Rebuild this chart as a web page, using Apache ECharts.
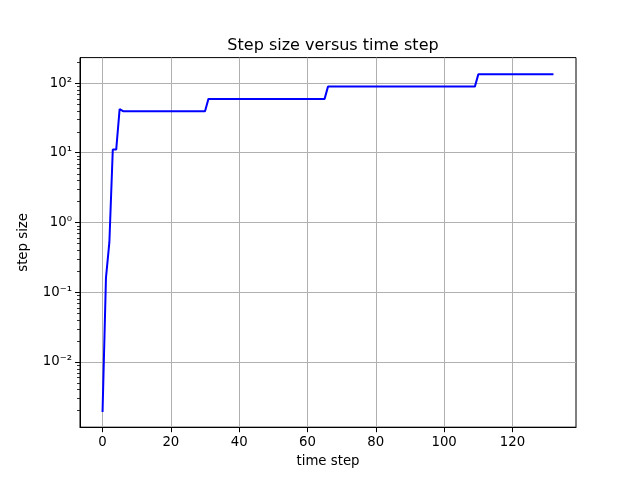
<!DOCTYPE html>
<html>
<head>
<meta charset="utf-8">
<script src="https://cdn.jsdelivr.net/npm/echarts@6/dist/echarts.min.js"></script>
<style>html,body{margin:0;padding:0;background:#fff}#c{width:640px;height:480px}</style>
</head>
<body>
<div id="c"></div>
<script>
const titleText = 'Step size versus time step';
const xName = 'time step';
const yName = 'step size';
const steps = [0,1,2,3,4,5,6,7,8,9,10,11,12,13,14,15,16,17,18,19,20,21,22,23,24,25,26,27,28,29,30,
31,32,33,34,35,36,37,38,39,40,41,42,43,44,45,46,47,48,49,50,51,52,53,54,55,56,57,58,59,60,61,62,63,64,65,
66,67,68,69,70,71,72,73,74,75,76,77,78,79,80,81,82,83,84,85,86,87,88,89,90,91,92,93,94,95,96,97,98,99,100,101,102,103,104,105,106,107,108,109,
110,111,112,113,114,115,116,117,118,119,120,121,122,123,124,125,126,127,128,129,130,131,132];
const stepSizes = [0.0019,0.16,0.52,11.1,11.1,42.3,
39.5,39.5,39.5,39.5,39.5,39.5,39.5,39.5,39.5,39.5,39.5,39.5,39.5,39.5,39.5,39.5,39.5,39.5,39.5,39.5,39.5,39.5,39.5,39.5,39.5,
59.3,59.3,59.3,59.3,59.3,59.3,59.3,59.3,59.3,59.3,59.3,59.3,59.3,59.3,59.3,59.3,59.3,59.3,59.3,59.3,59.3,59.3,59.3,59.3,59.3,59.3,59.3,59.3,59.3,59.3,59.3,59.3,59.3,59.3,59.3,
88.9,88.9,88.9,88.9,88.9,88.9,88.9,88.9,88.9,88.9,88.9,88.9,88.9,88.9,88.9,88.9,88.9,88.9,88.9,88.9,88.9,88.9,88.9,88.9,88.9,88.9,88.9,88.9,88.9,88.9,88.9,88.9,88.9,88.9,88.9,88.9,88.9,88.9,88.9,88.9,88.9,88.9,88.9,88.9,
133.3,133.3,133.3,133.3,133.3,133.3,133.3,133.3,133.3,133.3,133.3,133.3,133.3,133.3,133.3,133.3,133.3,133.3,133.3,133.3,133.3,133.3,133.3];
const xTicks = [0,20,40,60,80,100,120];
const yTicks = [0.01,0.1,1,10,100];
const yMinorTicks = [0.002,0.003,0.004,0.005,0.006,0.007,0.008,0.009,
0.02,0.03,0.04,0.05,0.06,0.07,0.08,0.09,
0.2,0.3,0.4,0.5,0.6,0.7,0.8,0.9,
2,3,4,5,6,7,8,9,
20,30,40,50,60,70,80,90,
200];

const sup = {'-':'⁻','0':'⁰','1':'¹','2':'²','3':'³','4':'⁴','5':'⁵','6':'⁶','7':'⁷','8':'⁸','9':'⁹'};
function logLabel(v){
  const e = Math.round(Math.log10(v));
  return '10' + String(e).split('').map(c => sup[c]).join('');
}
const font = 'DejaVu Sans';
const chart = echarts.init(document.getElementById('c'), null, {renderer:'canvas'});
const yMin = 0.00115, yMax = 232;
const gridLeft = 80;
chart.setOption({
  animation:false,
  backgroundColor:'#fff',
  title:{text:titleText,left:328,top:33,textAlign:'center',
    textStyle:{fontFamily:font,fontSize:16,fontWeight:'normal',color:'#000'}},
  grid:{left:gridLeft,right:64,top:57.6,bottom:52.8,show:true,borderColor:'#000',borderWidth:1,backgroundColor:'transparent'},
  xAxis:{type:'value',min:-6.6,max:138.6,name:xName,nameLocation:'middle',nameGap:28,
    nameTextStyle:{fontFamily:font,fontSize:13.3,color:'#000'},
    axisLine:{show:true,onZero:false,lineStyle:{color:'#000',width:1}},
    axisTick:{show:true,length:5,customValues:xTicks,lineStyle:{color:'#000',width:1}},
    axisLabel:{customValues:xTicks,margin:9,fontFamily:font,fontSize:13.3,color:'#000',showMinLabel:true,showMaxLabel:true},
    splitLine:{show:true,lineStyle:{color:'#b0b0b0',width:1}}},
  yAxis:{type:'log',min:yMin,max:yMax,name:yName,nameLocation:'middle',nameGap:50,position:'left',
    nameTextStyle:{fontFamily:font,fontSize:13.3,color:'#000'},
    axisLine:{show:true,onZero:false,lineStyle:{color:'#000',width:1}},
    axisTick:{show:true,length:5,customValues:yTicks,lineStyle:{color:'#000',width:1}},
    axisLabel:{customValues:yTicks,margin:8,fontFamily:font,fontSize:13.3,color:'#000',formatter:logLabel},
    splitLine:{show:true,lineStyle:{color:'#b0b0b0',width:1}}},
  series:[{type:'line',data:steps.map((s,i)=>[s,stepSizes[i]]),showSymbol:false,symbol:'none',
    lineStyle:{color:'#0000ff',width:2},itemStyle:{color:'#0000ff'}}]
});
// minor log ticks placed through the y axis scale
const minorEls = yMinorTicks.map(v => {
  const y = Math.round(chart.convertToPixel({yAxisIndex:0}, v)) + 0.5;
  return {type:'line',shape:{x1:gridLeft-3,y1:y,x2:gridLeft,y2:y},
    style:{stroke:'#000',lineWidth:0.8},silent:true,z:10};
});
chart.setOption({graphic:{elements:minorEls}});
</script>
</body>
</html>
